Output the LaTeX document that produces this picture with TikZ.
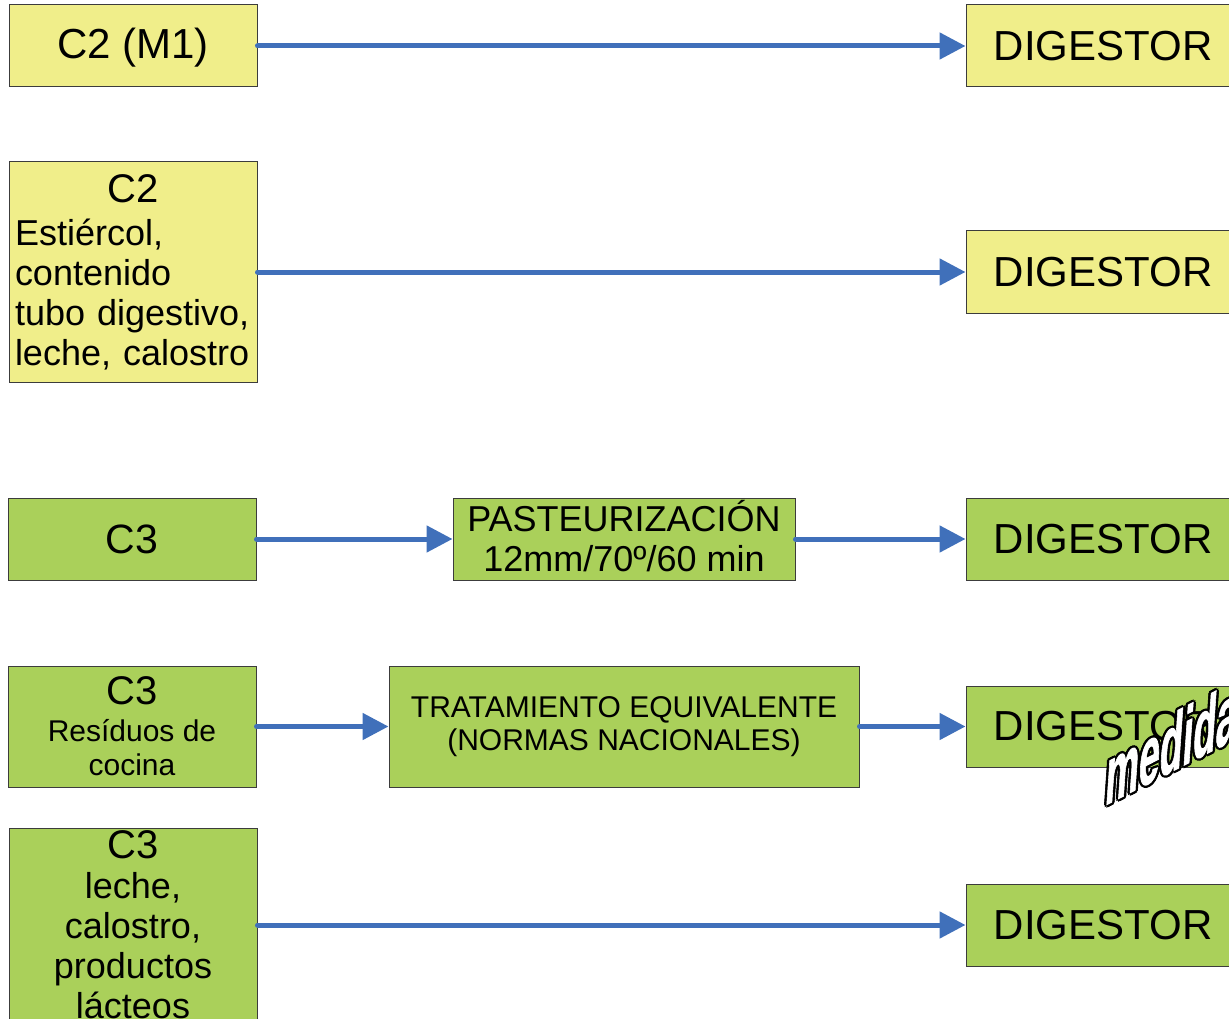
\documentclass[tikz,border=0pt]{standalone}
\usepackage{fontspec}
\setmainfont{Liberation Sans}
\newfontfamily\wafont[FakeBold=1.5]{Liberation Sans Bold}
\usetikzlibrary{arrows.meta}
\definecolor{boxyellow}{RGB}{240,238,138}
\definecolor{boxgreen}{RGB}{170,208,90}
\definecolor{boxline}{RGB}{60,60,60}
\definecolor{flowblue}{RGB}{64,112,186}
\tikzset{
  basebox/.style={draw=boxline, line width=1pt, rectangle, inner sep=0pt, align=center},
  ybox/.style={basebox, fill=boxyellow},
  gbox/.style={basebox, fill=boxgreen},
  digbox/.style={minimum width=274pt, minimum height=82pt, font=\fontsize{42}{46}\selectfont},
  srcbox/.style={minimum width=248pt},
  flow/.style={draw=flowblue, line width=5pt, line cap=round, -{Triangle[length=26pt,width=26pt]}},
  wordart/.style={anchor=base west, inner sep=0pt, rotate=27, xslant=0.6, xscale=0.68, yscale=1.15,
                  font=\wafont\fontsize{62}{62}\selectfont}
}
\begin{document}
\begin{tikzpicture}[x=1pt,y=-1pt]
\useasboundingbox (0,0) rectangle (1229,1019);
\clip (0,0) rectangle (1229,1019);
% Row 1
\node[ybox, srcbox, minimum height=82pt, text depth=6pt, font=\fontsize{42}{46}\selectfont] (s1) at (133,46) {C2 (M1)};
\node[ybox, digbox] (d1) at (1103,46) {DIGESTOR};
\draw[flow] (s1.east) -- (d1.west);
% Row 2
\node[ybox, srcbox, minimum height=220pt, text width=236pt, align=left,
      font=\fontsize{36}{40}\selectfont] (s2) at (133,272)
  {\makebox[\linewidth]{\fontsize{40}{40}\selectfont C2}\\[3pt]Estiércol,\\contenido\\tubo digestivo,\\leche, calostro};
\node[ybox, digbox] (d2) at (1103,272) {DIGESTOR};
\draw[flow] (s2.east) -- (d2.west);
% Row 3
\node[gbox, srcbox, minimum height=82pt, font=\fontsize{41}{46}\selectfont] (s3) at (132,539) {C3};
\node[gbox, minimum width=342pt, minimum height=82pt, font=\fontsize{36}{40}\selectfont] (p3) at (624,539)
  {PASTEURIZACIÓN\\12mm/70º/60 min\rule[-7pt]{0pt}{7pt}};
\node[gbox, digbox] (d3) at (1103,539) {DIGESTOR};
\draw[flow] (s3.east) -- (p3.west);
\draw[flow] (p3.east) -- (d3.west);
% Row 4
\node[gbox, srcbox, minimum height=121pt, font=\fontsize{30}{34}\selectfont] (s4) at (132,726.5)
  {{\fontsize{40}{40}\selectfont C3}\\[3pt]Resíduos de\\cocina};
\node[gbox, minimum width=470pt, minimum height=121pt, font=\fontsize{30}{33}\selectfont] (t4) at (624,726.5)
  {TRATAMIENTO EQUIVALENTE\\(NORMAS NACIONALES)};
\node[gbox, digbox, minimum height=81pt] (d4) at (1103,726.5) {DIGESTOR};
\draw[flow] (s4.east) -- (t4.west);
\draw[flow] (t4.east) -- (d4.west);
% Row 5
\node[gbox, srcbox, minimum height=194pt, font=\fontsize{36}{40}\selectfont] (s5) at (133,925)
  {{\fontsize{40}{40}\selectfont C3}\\leche,\\calostro,\\productos\\lácteos};
\node[gbox, digbox] (d5) at (1103,925) {DIGESTOR};
\draw[flow] (s5.east) -- (d5.west);
% WordArt "medida"
\foreach \dx/\dy in {-2.4/0,2.4/0,0/-2.4,0/2.4,-1.7/-1.7,1.7/1.7,-1.7/1.7,1.7/-1.7}
  \node[wordart, text=black] at (1104+\dx,806+\dy) {medida};
\node[wordart, text=white] (wa) at (1104,806) {medida};
\end{tikzpicture}
\end{document}
